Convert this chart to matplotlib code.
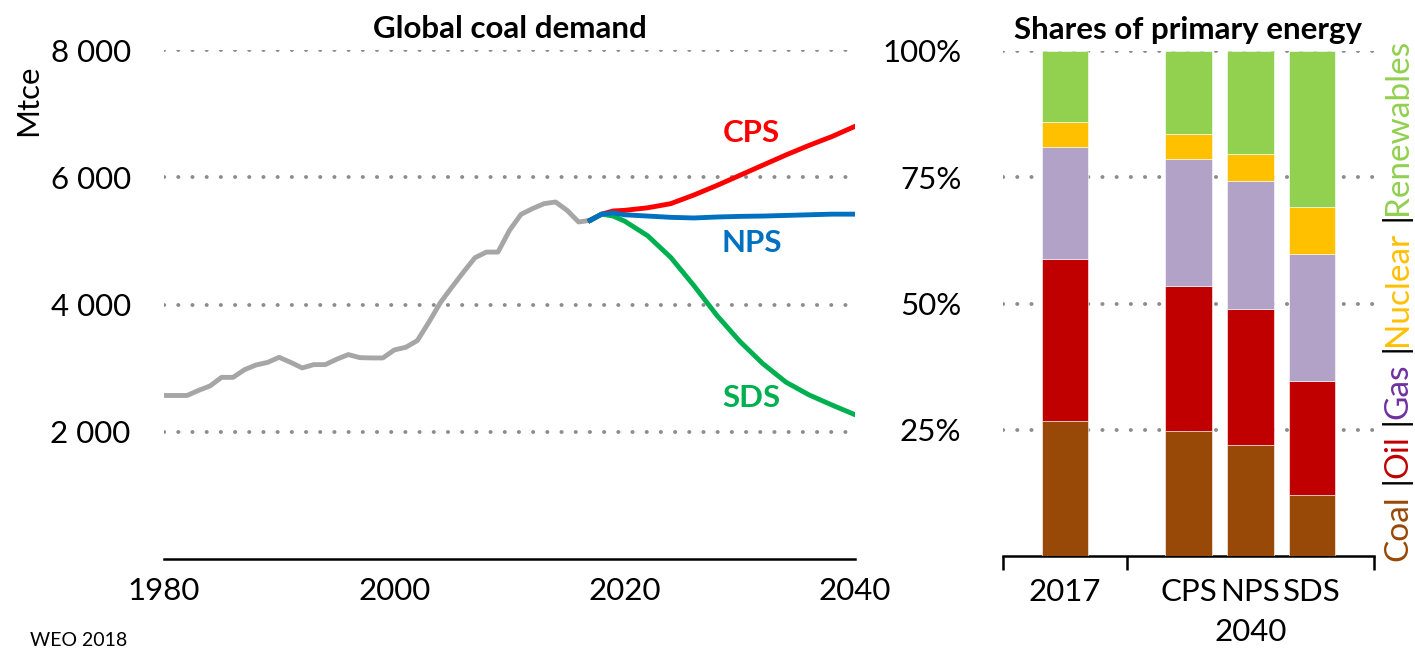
import numpy as np
import matplotlib.pyplot as plt
from matplotlib.ticker import FuncFormatter
from matplotlib.transforms import blended_transform_factory

plt.rcParams["font.family"] = ["Lato", "DejaVu Sans"]

# historical coal demand (Mtce)
hist_years = list(range(1980, 2018))
hist_vals = [2570, 2570, 2570, 2650, 2720, 2855, 2855, 2976, 3050, 3090,
             3170, 3090, 3003, 3055, 3055, 3140, 3213, 3165, 3160, 3160,
             3286, 3328, 3433, 3722, 4030, 4273, 4509, 4735, 4824, 4824,
             5165, 5417, 5507, 5585, 5611, 5480, 5297, 5323]

# scenarios
scen_years = [2017, 2018, 2019, 2020, 2022, 2024, 2026, 2028, 2030, 2032, 2034, 2036, 2038, 2040]
cps = [5323, 5420, 5470, 5480, 5520, 5585, 5720, 5870, 6030, 6190, 6350, 6500, 6640, 6800]
nps = [5323, 5420, 5440, 5410, 5390, 5370, 5360, 5375, 5385, 5390, 5400, 5410, 5420, 5420]
sds = [5323, 5420, 5390, 5310, 5080, 4740, 4300, 3830, 3420, 3070, 2780, 2580, 2420, 2268]

# shares of primary energy (%)
bar_labels = ["2017", "CPS", "NPS", "SDS"]
bar_pos = [0, 2, 3, 4]
fuels = ["Coal", "Oil", "Gas", "Nuclear", "Renewables"]
shares = {
    "Coal":       [26.8, 24.8, 21.9, 12.0],
    "Oil":        [32.0, 28.6, 27.1, 22.7],
    "Gas":        [22.2, 25.2, 25.2, 25.1],
    "Nuclear":    [4.9, 5.0, 5.4, 9.4],
    "Renewables": [14.1, 16.4, 20.4, 30.8],
}
bar_colors = {"Coal": "#984807", "Oil": "#C00000", "Gas": "#B3A2C7",
              "Nuclear": "#FFC000", "Renewables": "#92D050"}
text_colors = {"Coal": "#984807", "Oil": "#C00000", "Gas": "#7030A0",
               "Nuclear": "#FFC000", "Renewables": "#92D050"}

FS = 22.5
W, H = 1415, 652
fig = plt.figure(figsize=(W / 100, H / 100), dpi=100)

grid_kw = dict(color="#8c8c8c", linestyle=(0, (0.05, 3.6)), linewidth=2.8,
               dash_capstyle="round")

# ---- left panel: global coal demand
ax = fig.add_axes([164 / W, 1 - 559 / H, (855 - 164) / W, (559 - 50) / H])
ax.plot(hist_years, hist_vals, color="#A6A6A6", lw=3.5, solid_joinstyle="round", zorder=3)
ax.plot(scen_years, cps, color="#FF0000", lw=3.5, zorder=3)
ax.plot(scen_years, sds, color="#00B050", lw=3.5, zorder=3)
ax.plot(scen_years, nps, color="#0070C0", lw=3.5, zorder=4)
ax.set_xlim(1980, 2040)
ax.set_ylim(0, 8000)
ax.set_yticks([2000, 4000, 6000, 8000])
ax.yaxis.set_major_formatter(FuncFormatter(lambda v, p: f"{int(v):,}".replace(",", " ")))
ax.set_xticks([1980, 2000, 2020, 2040])
ax.set_xticks([1980, 2040], minor=True)
ax.tick_params(axis="y", length=0, pad=24, labelsize=FS)
ax.tick_params(axis="x", which="major", length=0, pad=13, labelsize=FS)
ax.tick_params(axis="x", which="minor", length=7, width=1.8)
ax.grid(axis="y", **grid_kw)
ax.set_axisbelow(True)
for s in ["left", "right", "top"]:
    ax.spines[s].set_visible(False)
ax.spines["bottom"].set_linewidth(1.8)
ax.set_title("Global coal demand", fontsize=FS, fontweight="bold", pad=9)
ax.text(2031, 6693, "CPS", color="#FF0000", fontsize=FS, fontweight="bold", ha="center", va="center")
ax.text(2031, 4961, "NPS", color="#0070C0", fontsize=FS, fontweight="bold", ha="center", va="center")
ax.text(2031, 2535, "SDS", color="#00B050", fontsize=FS, fontweight="bold", ha="center", va="center")
fig.text(28 / W, 1 - 100 / H, "Mtce", rotation=90, fontsize=FS, ha="center", va="center")
fig.text(30 / W, 1 - 649 / H, "WEO 2018", fontsize=14, ha="left", va="bottom")

# ---- right panel: shares of primary energy
ax2 = fig.add_axes([1003 / W, 1 - 556 / H, (1374 - 1003) / W, (556 - 51) / H])
bottom = np.zeros(len(bar_pos))
for f in fuels:
    vals = np.array(shares[f])
    ax2.bar(bar_pos, vals, bottom=bottom, width=0.75, color=bar_colors[f],
            edgecolor="white", linewidth=0.4, zorder=3)
    bottom += vals
ax2.set_xlim(-1, 5)
ax2.set_ylim(0, 100)
ax2.set_yticks([25, 50, 75, 100])
ax2.yaxis.set_major_formatter(FuncFormatter(lambda v, p: f"{int(v)}%"))
ax2.set_xticks(bar_pos)
ax2.set_xticklabels(bar_labels)
ax2.set_xticks([-1, 1, 5], minor=True)
ax2.tick_params(axis="y", length=0, pad=30, labelsize=FS)
ax2.tick_params(axis="x", which="major", length=0, pad=16, labelsize=FS)
ax2.tick_params(axis="x", which="minor", length=10, width=1.8)
ax2.grid(axis="y", **grid_kw)
ax2.set_axisbelow(True)
for s in ["left", "right", "top"]:
    ax2.spines[s].set_visible(False)
ax2.spines["bottom"].set_linewidth(1.8)
ax2.set_title("Shares of primary energy", fontsize=FS, fontweight="bold", pad=9)
tr = blended_transform_factory(ax2.transData, fig.transFigure)
ax2.text(3, 1 - 632 / H, "2040", fontsize=FS, ha="center", va="center", transform=tr)

# rotated colour legend on the right edge, stacked bottom to top
renderer = fig.canvas.get_renderer()
y_px = H - 561
pieces = []
for i, f in enumerate(fuels):
    pieces.append((f, text_colors[f]))
    if i < len(fuels) - 1:
        pieces.append((" |", "black"))
for txt, col in pieces:
    t = fig.text(1398 / W, y_px / H, txt, rotation=90, color=col, fontsize=24,
                 ha="center", va="bottom")
    bb = t.get_window_extent(renderer)
    y_px += bb.height

fig.savefig("out.png", dpi=100)
